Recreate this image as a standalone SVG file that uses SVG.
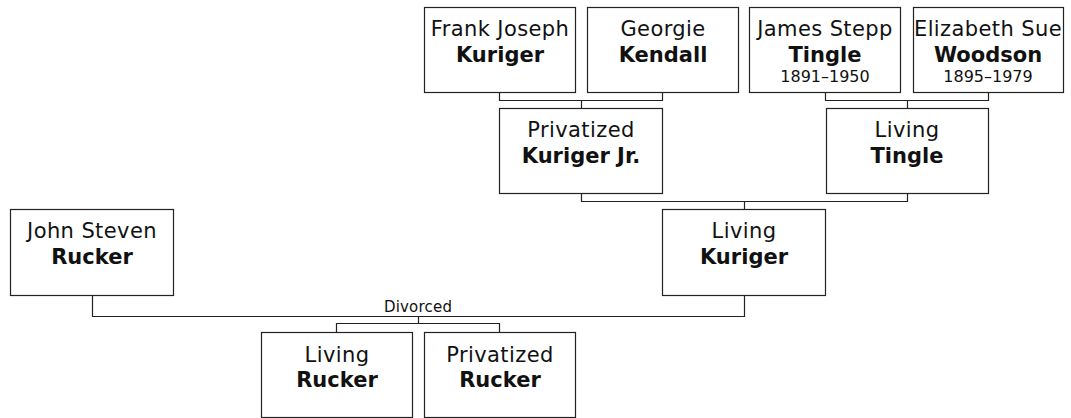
<svg xmlns="http://www.w3.org/2000/svg" width="1071" height="418" viewBox="0 0 1071 418">
<style>
.n rect{fill:#fff;stroke:#222;stroke-width:1.2}
#connectors path{fill:none;stroke:#222;stroke-width:1.2}
text{font-family:"DejaVu Sans",Verdana,sans-serif;font-size:21px;text-anchor:middle;fill:#111;letter-spacing:0.4px}
.b{font-weight:bold;letter-spacing:0}
.d{font-size:16px;letter-spacing:0}
.lbl{font-size:15px;letter-spacing:0.2px}
</style>
<rect width="1071" height="418" fill="#fff"/>
<g id="connectors">
<path d="M499.5 92.5V100.5H662.5V92.5M581.5 100.5V108.5"/>
<path d="M825.5 92.5V100.5H988.5V92.5M907.5 100.5V108.5"/>
<path d="M581.5 193.5V201.5H907.5V193.5M744.5 201.5V209.5"/>
<path d="M92.5 295.5V316.5H744.5V295.5M418.5 316.5V323.5M336.5 332.5V323.5H499.5V332.5"/>
<text class="lbl" x="418" y="312">Divorced</text>
</g>
<g id="frank" class="n"><rect x="424.5" y="7.5" width="151" height="85"/><text x="500" y="36">Frank Joseph</text><text class="b" x="500" y="62">Kuriger</text></g>
<g id="georgie" class="n"><rect x="587.5" y="7.5" width="151" height="85"/><text x="663" y="36">Georgie</text><text class="b" x="663" y="62">Kendall</text></g>
<g id="james" class="n"><rect x="749.5" y="7.5" width="151" height="85"/><text x="825" y="36">James Stepp</text><text class="b" x="825" y="62">Tingle</text><text class="d" x="825" y="82">1891–1950</text></g>
<g id="elizabeth" class="n"><rect x="913.5" y="7.5" width="150" height="85"/><text x="988" y="36">Elizabeth Sue</text><text class="b" x="988" y="62">Woodson</text><text class="d" x="988" y="82">1895–1979</text></g>
<g id="kurigerjr" class="n"><rect x="499.5" y="108.5" width="163" height="85"/><text x="581" y="137">Privatized</text><text class="b" x="581" y="163">Kuriger Jr.</text></g>
<g id="livingtingle" class="n"><rect x="826.5" y="108.5" width="162" height="85"/><text x="907" y="137">Living</text><text class="b" x="907" y="163">Tingle</text></g>
<g id="livingkuriger" class="n"><rect x="662.5" y="209.5" width="163" height="86"/><text x="744" y="238">Living</text><text class="b" x="744" y="264">Kuriger</text></g>
<g id="john" class="n"><rect x="10.5" y="209.5" width="163" height="86"/><text x="92" y="238">John Steven</text><text class="b" x="92" y="264">Rucker</text></g>
<g id="livingrucker" class="n"><rect x="261.5" y="332.5" width="151" height="85"/><text x="337" y="362">Living</text><text class="b" x="337" y="387">Rucker</text></g>
<g id="privrucker" class="n"><rect x="424.5" y="332.5" width="151" height="85"/><text x="500" y="362">Privatized</text><text class="b" x="500" y="387">Rucker</text></g>
</svg>
